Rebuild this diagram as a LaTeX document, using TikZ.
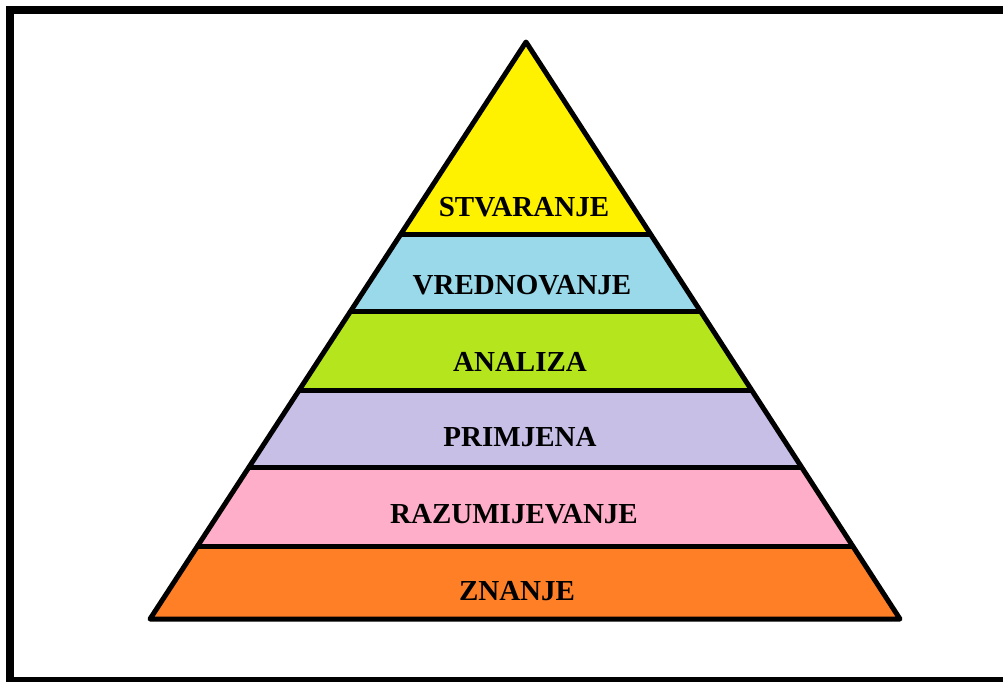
\documentclass[tikz,border=0pt]{standalone}
\usepackage{fontspec}
\setmainfont{Liberation Serif}
\definecolor{lvlA}{HTML}{FFF200}
\definecolor{lvlB}{HTML}{99D9EA}
\definecolor{lvlC}{HTML}{B5E61D}
\definecolor{lvlD}{HTML}{C8BFE7}
\definecolor{lvlE}{HTML}{FFAEC9}
\definecolor{lvlF}{HTML}{FF7F27}
\begin{document}
\begin{tikzpicture}[x=1pt,y=-1pt,
  label/.style={font=\bfseries\fontsize{29}{32}\selectfont, text=black, inner sep=0pt},
  edge/.style={line width=5pt, line join=round}]
\useasboundingbox (0,0) rectangle (1003,681);
\fill[white] (0,0) rectangle (1003,681);
% outer frame
\draw[line width=8pt] (10,10) rectangle (1013,681);
% pyramid corners
\coordinate (apex) at (526,42);
\coordinate (bl) at (150,619);
\coordinate (br) at (900,619);
% bands, clipped to the triangle
\begin{scope}
  \clip (apex) -- (br) -- (bl) -- cycle;
  \fill[lvlA] (100,30)  rectangle (950,234);
  \fill[lvlB] (100,234) rectangle (950,311);
  \fill[lvlC] (100,311) rectangle (950,390);
  \fill[lvlD] (100,390) rectangle (950,467);
  \fill[lvlE] (100,467) rectangle (950,546);
  \fill[lvlF] (100,546) rectangle (950,625);
  \foreach \yy in {234,311,390,467,546}
    \draw[line width=5pt] (100,\yy) -- (950,\yy);
\end{scope}
\draw[edge] (apex) -- (br) -- (bl) -- cycle;
% level labels
\node[label] (l1) at (524,207) {STVARANJE};
\node[label] (l2) at (522,285) {VREDNOVANJE};
\node[label] (l3) at (520,362) {ANALIZA};
\node[label] (l4) at (520,437) {PRIMJENA};
\node[label] (l5) at (514,514) {RAZUMIJEVANJE};
\node[label] (l6) at (517,591) {ZNANJE};
\end{tikzpicture}
\end{document}
